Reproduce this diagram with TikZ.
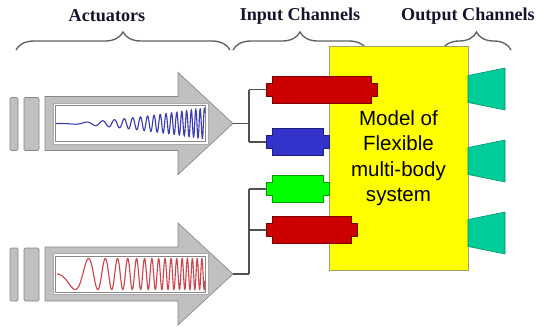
\documentclass[tikz,border=0pt]{standalone}
\usepackage{fontspec}
\setmainfont{Liberation Serif}
\newfontfamily\boxsans{Liberation Sans}
\usetikzlibrary{decorations.pathreplacing}
\definecolor{titleink}{RGB}{20,20,45}
\definecolor{bracegray}{RGB}{95,95,95}
\definecolor{wiregray}{RGB}{80,80,80}
\definecolor{armgray}{RGB}{192,192,192}
\definecolor{armedge}{RGB}{135,135,135}
\definecolor{modelyellow}{RGB}{255,255,0}
\definecolor{modeledge}{RGB}{160,160,110}
\definecolor{horngreen}{RGB}{0,204,153}
\definecolor{portred}{RGB}{204,0,0}
\definecolor{portblue}{RGB}{51,51,204}
\definecolor{portgreen}{RGB}{0,255,0}
\definecolor{waveblue}{RGB}{60,60,180}
\definecolor{wavered}{RGB}{205,70,75}

\begin{document}
\begin{tikzpicture}[x=0.75pt, y=-0.75pt,
	title/.style={font=\fontsize{13.6}{16}\selectfont\bfseries, text=titleink},
	curly/.style={draw=bracegray, line width=1pt, decorate, decoration={brace, amplitude=13.5pt}},
	wire/.style={draw=wiregray, line width=0.8pt},
	bar/.style={draw=armedge, fill=armgray, line width=0.5pt, rounded corners=1pt},
	arm/.style={draw=armedge, fill=armgray, line width=0.5pt},
	panel/.style={draw=armedge!70, fill=white, line width=0.5pt},
	horn/.style={draw=horngreen!70!black, fill=horngreen, line width=0.4pt}]
	\useasboundingbox (0,0) rectangle (536,330);

	\node[title] (actuators) at (107,16) {Actuators};
	\node[title] (inputs) at (300,16) {Input Channels};
	\node[title] (outputs) at (468,16) {Output Channels};
	\draw[curly] (16,50) -- (230,50);
	\draw[curly] (233,50) -- (367,50);
	\draw[curly] (442,50) -- (511,50);

	\node[draw=modeledge, fill=modelyellow, line width=0.6pt, minimum width=104.25pt, minimum height=168pt,
		align=center, inner sep=0pt, font=\boxsans\fontsize{15.4}{19.1}\selectfont] (model) at (398.5,158)
		{Model of\\Flexible\\multi-body\\system};
	\foreach \y in {89, 161, 233}
		\draw[horn] (468,\y-13.5) -- (505,\y-21) -- (505,\y+21) -- (468,\y+13.5) -- cycle;

	\foreach \c/\t in {123.5/tip1, 274/tip2} {
		\draw[bar] (10,\c-26) rectangle (18,\c+27);
		\draw[bar] (24,\c-26) rectangle (39,\c+27);
		\draw[arm] (45,\c-27) -- (178,\c-27) -- (178,\c-51) -- (233,\c) -- (178,\c+51) -- (178,\c+27) -- (45,\c+27) -- cycle;
		\draw[panel] (53,\c-20.5) rectangle (208,\c+20.5);
		\draw[panel, draw=armedge] (55.5,\c-18) rectangle (205.5,\c+18);
		\coordinate (\t) at (233,\c);
	}
	\draw[waveblue, line width=0.85pt] plot[domain=0:149, samples=700, variable=\t]
		({56+\t}, {123.5+15.5*(\t/149)*sqrt(\t/149)*sin(0.29*\t*\t)});
	\draw[wavered, line width=0.85pt] plot[domain=0:148, samples=700, variable=\t]
		({57+\t}, {274+15.5*sin(0.27*\t*\t)});

	\foreach \n/\xa/\xb/\y/\col in {pr1/266/377/89.5/portred, pb/266/329/142/portblue,
			pg/266/329/189/portgreen, pr2/266/357/230/portred} {
		\draw[draw=\col!60!black, fill=\col, line width=0.5pt]
			(\xa,\y-6.5) -- (\xa+6,\y-6.5) -- (\xa+6,\y-13.5) -- (\xb-6,\y-13.5) -- (\xb-6,\y-6.5) -- (\xb,\y-6.5)
			-- (\xb,\y+6.5) -- (\xb-6,\y+6.5) -- (\xb-6,\y+13.5) -- (\xa+6,\y+13.5) -- (\xa+6,\y+6.5) -- (\xa,\y+6.5) -- cycle;
		\coordinate (\n) at (\xa,\y);
	}

	\draw[wire] (tip1) -- ++(16,0) coordinate (j1);
	\draw[wire] (j1 |- pr1) -- (j1 |- pb);
	\draw[wire] (j1 |- pr1) -- (pr1);
	\draw[wire] (j1 |- pb) -- (pb);
	\draw[wire] (tip2) -- ++(16,0) coordinate (j2);
	\draw[wire] (j2 |- pg) -- (j2);
	\draw[wire] (j2 |- pg) -- (pg);
	\draw[wire] (j2 |- pr2) -- (pr2);
\end{tikzpicture}
\end{document}
